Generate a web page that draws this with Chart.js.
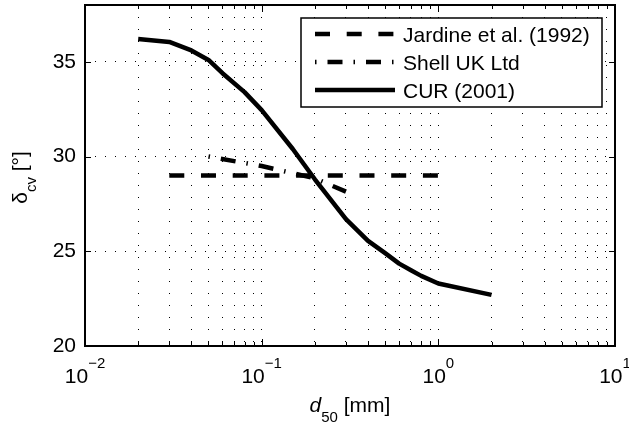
<!DOCTYPE html>
<html>
<head>
<meta charset="utf-8">
<script src="https://cdn.jsdelivr.net/npm/chart.js@4.4.0/dist/chart.umd.min.js"></script>
<style>
  html, body { margin: 0; padding: 0; background: #fff; }
</style>
</head>
<body>
<canvas id="myChart" width="629" height="426"></canvas>
<script>
// d50 [mm] vs delta_cv [deg]
const jardineD50 = [0.03, 1.0];
const jardineDelta = [29, 29];
const shellD50 = [0.05, 0.1, 0.2, 0.3];
const shellDelta = [30.0, 29.5, 28.85, 28.15];
const curD50 = [0.02, 0.03, 0.04, 0.05, 0.06, 0.08, 0.1, 0.15, 0.2, 0.3, 0.4, 0.5, 0.6, 0.7, 0.8, 1.0, 2.0];
const curDelta = [36.2, 36.05, 35.6, 35.1, 34.4, 33.4, 32.45, 30.4, 28.8, 26.7, 25.55, 24.9, 24.35, 24.0, 23.7, 23.3, 22.7];

const xDecades = [0.01, 0.1, 1, 10];
const xExponents = ['\u22122', '\u22121', '0', '1'];
const yTicks = [20, 25, 30, 35];

const FONT = '"Liberation Sans", Arial, Helvetica, sans-serif';
Chart.defaults.font.family = FONT;
Chart.defaults.font.size = 21;
Chart.defaults.color = '#000';

const toPoints = (xs, ys) => xs.map((x, i) => ({ x: x, y: ys[i] }));

// minor log ticks 1..9 in every decade
const xTickValues = [];
xDecades.forEach((d, i) => {
    for (let m = 1; m <= 9; m++) {
        if (i === xDecades.length - 1 && m > 1) break;
        xTickValues.push(+(d * m).toPrecision(3));
    }
});

const matlabAxes = {
    id: 'matlabAxes',
    afterDraw(chart) {
        const ctx = chart.ctx;
        const a = chart.chartArea;
        const xs = chart.scales.x;
        const ys = chart.scales.y;
        ctx.save();

        // inward tick marks
        ctx.strokeStyle = '#000';
        ctx.lineWidth = 1;
        xs.ticks.forEach(t => {
            const px = Math.round(xs.getPixelForValue(t.value)) + 0.5;
            const len = xDecades.includes(t.value) ? 7 : 4;
            ctx.beginPath();
            ctx.moveTo(px, a.bottom); ctx.lineTo(px, a.bottom - len);
            ctx.moveTo(px, a.top); ctx.lineTo(px, a.top + len);
            ctx.stroke();
        });
        yTicks.forEach(v => {
            const py = Math.round(ys.getPixelForValue(v)) + 0.5;
            ctx.beginPath();
            ctx.moveTo(a.left, py); ctx.lineTo(a.left + 6, py);
            ctx.moveTo(a.right, py); ctx.lineTo(a.right - 6, py);
            ctx.stroke();
        });

        // axes box
        ctx.lineWidth = 2;
        ctx.strokeRect(a.left, a.top, a.right - a.left, a.bottom - a.top);

        // x tick labels 10^n
        ctx.fillStyle = '#000';
        ctx.textBaseline = 'alphabetic';
        ctx.textAlign = 'left';
        xDecades.forEach((d, i) => {
            const px = xs.getPixelForValue(d);
            ctx.font = '21px ' + FONT;
            const wb = ctx.measureText('10').width;
            ctx.font = '15px ' + FONT;
            const we = ctx.measureText(xExponents[i]).width;
            const x0 = px - (wb + we) / 2;
            ctx.font = '21px ' + FONT;
            ctx.fillText('10', x0, a.bottom + 37);
            ctx.font = '15px ' + FONT;
            ctx.fillText(xExponents[i], x0 + wb, a.bottom + 22);
        });

        // x axis title: d50 [mm]
        ctx.font = 'italic 21px ' + FONT;
        const wd = ctx.measureText('d').width;
        ctx.font = '15px ' + FONT;
        const w50 = ctx.measureText('50').width;
        ctx.font = '21px ' + FONT;
        const wmm = ctx.measureText(' [mm]').width;
        let tx = (a.left + a.right) / 2 - (wd + w50 + wmm) / 2;
        const tb = a.bottom + 66;
        ctx.font = 'italic 21px ' + FONT;
        ctx.fillText('d', tx, tb);
        ctx.font = '15px ' + FONT;
        ctx.fillText('50', tx + wd, tb + 10);
        ctx.font = '21px ' + FONT;
        ctx.fillText(' [mm]', tx + wd + w50, tb);

        // y axis title: delta_cv [deg]
        ctx.save();
        ctx.translate(27, (a.top + a.bottom) / 2 + 2);
        ctx.rotate(-Math.PI / 2);
        ctx.font = '21px ' + FONT;
        const wdel = ctx.measureText('\u03b4').width;
        const wdeg = ctx.measureText(' [\u00b0]').width;
        ctx.font = '15px ' + FONT;
        const wcv = ctx.measureText('cv').width;
        let ty = -(wdel + wcv + wdeg) / 2;
        ctx.font = '21px ' + FONT;
        ctx.fillText('\u03b4', ty, 0);
        ctx.font = '15px ' + FONT;
        ctx.fillText('cv', ty + wdel, 9);
        ctx.font = '21px ' + FONT;
        ctx.fillText(' [\u00b0]', ty + wdel + wcv, 0);
        ctx.restore();

        // legend box
        const bx = 301, by = 18, bw = 301, bh = 89;
        ctx.fillStyle = '#fff';
        ctx.fillRect(bx, by, bw, bh);
        ctx.strokeStyle = '#000';
        ctx.lineWidth = 1.5;
        ctx.strokeRect(bx, by, bw, bh);
        chart.data.datasets.forEach((ds, i) => {
            const yy = by + 16 + i * 28;
            ctx.save();
            ctx.strokeStyle = ds.borderColor;
            ctx.lineWidth = ds.borderWidth;
            ctx.lineCap = 'butt';
            ctx.setLineDash(ds.borderDash || []);
            ctx.lineDashOffset = ds.borderDashOffset || 0;
            ctx.beginPath();
            ctx.moveTo(315, yy);
            ctx.lineTo(395, yy);
            ctx.stroke();
            ctx.restore();
            ctx.fillStyle = '#000';
            ctx.font = '21px ' + FONT;
            ctx.fillText(ds.label, 403, yy + 7.5);
        });

        ctx.restore();
    }
};

const ctx = document.getElementById('myChart').getContext('2d');

const myChart = new Chart(ctx, {
    type: 'line',
    data: {
        datasets: [
            {
                label: 'Jardine et al. (1992)',
                data: toPoints(jardineD50, jardineDelta),
                borderColor: '#000',
                borderWidth: 4.5,
                borderDash: [15, 16.7],
                borderDashOffset: 0
            },
            {
                label: 'Shell UK Ltd',
                data: toPoints(shellD50, shellDelta),
                borderColor: '#000',
                borderWidth: 4.5,
                borderDash: [15, 11, 1.5, 11],
                borderDashOffset: 26
            },
            {
                label: 'CUR (2001)',
                data: toPoints(curD50, curDelta),
                borderColor: '#000',
                borderWidth: 4.5
            }
        ]
    },
    options: {
        responsive: false,
        animation: false,
        layout: { padding: { left: 0, right: 14, top: 5, bottom: 0 } },
        elements: {
            point: { radius: 0 },
            line: { tension: 0, fill: false, borderCapStyle: 'butt', borderJoinStyle: 'round' }
        },
        plugins: {
            legend: { display: false },
            tooltip: { enabled: false }
        },
        scales: {
            x: {
                type: 'logarithmic',
                min: 0.01,
                max: 10,
                afterBuildTicks: axis => {
                    axis.ticks = xTickValues.map(v => ({ value: v }));
                },
                afterFit: axis => { axis.height = 80; },
                ticks: { display: false },
                grid: { color: '#000', lineWidth: 1, drawTicks: false },
                border: { display: false, dash: [1, 11] }
            },
            y: {
                min: 20,
                max: 38,
                afterBuildTicks: axis => {
                    axis.ticks = yTicks.map(v => ({ value: v }));
                },
                afterFit: axis => {
                    axis.width = 85;
                    axis.paddingTop = 0;
                    axis.paddingBottom = 0;
                },
                ticks: { padding: 9, font: { size: 21 } },
                grid: { color: '#000', lineWidth: 1, drawTicks: false },
                border: { display: false, dash: [1, 9] }
            }
        }
    },
    plugins: [matlabAxes]
});
</script>
</body>
</html>
